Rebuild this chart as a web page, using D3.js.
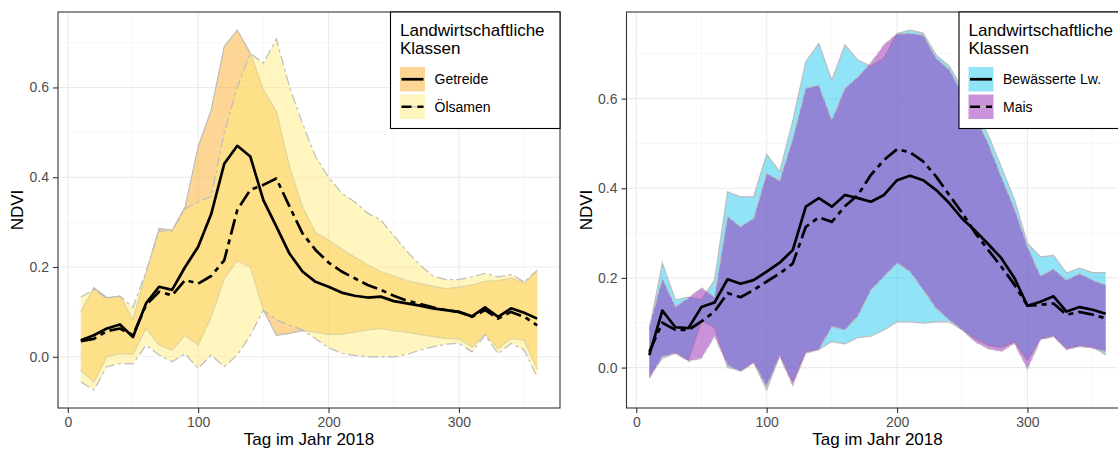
<!DOCTYPE html>
<html>
<head>
<meta charset="utf-8">
<script src="https://cdn.jsdelivr.net/npm/d3@7/dist/d3.min.js"></script>
<style>
  body { margin: 0; background: #fff; }
  svg { display: block; font-family: "Liberation Sans", Arial, sans-serif; }
</style>
</head>
<body>
<svg id="chart" width="1118" height="450"></svg>
<script>
'use strict';

// Tag im Jahr (alle 10 Tage)
const days = [10, 20, 30, 40, 50, 60, 70, 80, 90, 100, 110, 120, 130, 140, 150, 160, 170, 180,
              190, 200, 210, 220, 230, 240, 250, 260, 270, 280, 290, 300, 310, 320, 330, 340, 350, 360];

const xTicks = [0, 100, 200, 300];
const xMinor = [50, 150, 250, 350];
const yTicks = [0, 0.2, 0.4, 0.6];
const yMinor = [-0.1, 0.1, 0.3, 0.5, 0.7];

// linkes Panel
const getreideMean = [0.037, 0.048, 0.063, 0.072, 0.044, 0.119, 0.156, 0.149, 0.200, 0.245, 0.318, 0.430,
                      0.470, 0.446, 0.349, 0.290, 0.230, 0.190, 0.167, 0.156, 0.143, 0.136, 0.132, 0.134,
                      0.124, 0.119, 0.114, 0.108, 0.104, 0.100, 0.090, 0.110, 0.089, 0.108, 0.098, 0.085];
const getreideLow  = [-0.030, -0.056, 0.000, 0.007, 0.006, 0.063, 0.026, 0.015, 0.048, 0.026, 0.089, 0.174,
                      0.214, 0.200, 0.104, 0.048, 0.052, 0.058, 0.055, 0.050, 0.050, 0.055, 0.060, 0.063,
                      0.058, 0.055, 0.050, 0.045, 0.041, 0.040, 0.022, 0.051, 0.018, 0.041, 0.037, -0.027];
const getreideHigh = [0.100, 0.154, 0.132, 0.135, 0.083, 0.186, 0.286, 0.282, 0.334, 0.468, 0.550, 0.691,
                      0.728, 0.676, 0.595, 0.546, 0.424, 0.334, 0.277, 0.260, 0.240, 0.222, 0.205, 0.190,
                      0.180, 0.170, 0.163, 0.157, 0.152, 0.155, 0.160, 0.168, 0.170, 0.175, 0.165, 0.190];

const oelsamenMean = [0.035, 0.040, 0.057, 0.063, 0.048, 0.115, 0.145, 0.137, 0.171, 0.163, 0.180, 0.215,
                      0.327, 0.372, 0.383, 0.397, 0.335, 0.275, 0.238, 0.210, 0.190, 0.175, 0.160, 0.149,
                      0.136, 0.125, 0.118, 0.110, 0.104, 0.100, 0.089, 0.104, 0.085, 0.100, 0.089, 0.070];
const oelsamenLow  = [-0.056, -0.074, -0.022, -0.015, -0.016, 0.026, 0.004, -0.011, 0.007, -0.026, 0.004, -0.022,
                      0.004, 0.048, 0.104, 0.082, 0.070, 0.060, 0.040, 0.020, 0.008, 0.003, 0.000, 0.000,
                      0.000, 0.005, 0.015, 0.022, 0.028, 0.030, 0.011, 0.048, 0.007, 0.030, 0.015, -0.045];
const oelsamenHigh = [0.133, 0.150, 0.130, 0.135, 0.110, 0.190, 0.280, 0.280, 0.330, 0.345, 0.357, 0.500,
                      0.600, 0.676, 0.654, 0.708, 0.602, 0.520, 0.446, 0.400, 0.365, 0.345, 0.320, 0.305,
                      0.270, 0.235, 0.205, 0.180, 0.172, 0.172, 0.178, 0.186, 0.178, 0.183, 0.167, 0.193];

// rechtes Panel
const bewMean = [0.028, 0.127, 0.090, 0.088, 0.135, 0.145, 0.197, 0.187, 0.195, 0.214, 0.234, 0.262,
                 0.359, 0.378, 0.359, 0.385, 0.378, 0.370, 0.385, 0.418, 0.428, 0.418, 0.396, 0.367,
                 0.332, 0.305, 0.275, 0.244, 0.200, 0.138, 0.147, 0.159, 0.125, 0.135, 0.129, 0.120];
const bewLow  = [-0.020, 0.021, 0.032, 0.017, 0.105, 0.090, 0.000, -0.007, 0.013, -0.050, 0.028, -0.030,
                 0.035, 0.040, 0.058, 0.053, 0.067, 0.070, 0.084, 0.102, 0.102, 0.099, 0.102, 0.102,
                 0.084, 0.065, 0.050, 0.045, 0.058, 0.017, 0.065, 0.072, 0.043, 0.048, 0.047, 0.028];
const bewHigh = [0.084, 0.233, 0.151, 0.157, 0.151, 0.195, 0.392, 0.381, 0.381, 0.476, 0.437, 0.550,
                 0.682, 0.723, 0.641, 0.720, 0.686, 0.672, 0.690, 0.745, 0.753, 0.746, 0.697, 0.673,
                 0.622, 0.578, 0.518, 0.447, 0.375, 0.277, 0.247, 0.250, 0.211, 0.222, 0.212, 0.212];

const maisMean = [0.035, 0.100, 0.084, 0.084, 0.103, 0.125, 0.166, 0.157, 0.173, 0.192, 0.210, 0.232,
                  0.314, 0.335, 0.325, 0.360, 0.385, 0.430, 0.463, 0.487, 0.480, 0.460, 0.426, 0.385,
                  0.345, 0.300, 0.262, 0.225, 0.185, 0.138, 0.140, 0.143, 0.118, 0.124, 0.118, 0.110];
const maisLow  = [-0.024, 0.024, 0.032, 0.014, 0.021, 0.070, 0.005, -0.009, 0.010, -0.042, 0.025, -0.040,
                  0.032, 0.040, 0.091, 0.084, 0.115, 0.173, 0.203, 0.233, 0.214, 0.173, 0.132, 0.106,
                  0.084, 0.057, 0.042, 0.036, 0.054, -0.003, 0.062, 0.069, 0.040, 0.047, 0.043, 0.035];
const maisHigh = [0.091, 0.199, 0.136, 0.155, 0.178, 0.158, 0.337, 0.314, 0.333, 0.433, 0.417, 0.510,
                  0.623, 0.630, 0.552, 0.623, 0.649, 0.680, 0.720, 0.745, 0.745, 0.742, 0.690, 0.665,
                  0.612, 0.560, 0.500, 0.425, 0.355, 0.270, 0.204, 0.220, 0.195, 0.210, 0.195, 0.184];

const svg = d3.select('#chart');
const DASHDOT = '16,5,5,5';
const DASHDOT_THIN = '10,3.5,3,3.5';

var drawPanel = (x0, y0, w, h, series, legendTitle) => {
    const x1 = x0 + w, y1 = y0 + h;
    const g = svg.append('g');

    const dPad = (d3.max(days) - d3.min(days)) * 0.05;
    const x = d3.scaleLinear().domain([d3.min(days) - dPad, d3.max(days) + dPad]).range([x0, x1]);
    const allVals = d3.merge(series.map(s => s.low.concat(s.high)));
    const vMin = d3.min(allVals), vMax = d3.max(allVals);
    const vPad = (vMax - vMin) * 0.05;
    const y = d3.scaleLinear().domain([vMin - vPad, vMax + vPad]).range([y1, y0]);

    // Gitter
    const inY = v => v >= y.domain()[0] && v <= y.domain()[1];
    g.selectAll('.minorx').data(xMinor).enter().append('line')
        .attr('x1', d => x(d)).attr('x2', d => x(d)).attr('y1', y0).attr('y2', y1)
        .attr('stroke', '#f2f2f2').attr('stroke-width', 0.6);
    g.selectAll('.minory').data(yMinor.filter(inY)).enter().append('line')
        .attr('x1', x0).attr('x2', x1).attr('y1', d => y(d)).attr('y2', d => y(d))
        .attr('stroke', '#f2f2f2').attr('stroke-width', 0.6);
    g.selectAll('.majorx').data(xTicks).enter().append('line')
        .attr('x1', d => x(d)).attr('x2', d => x(d)).attr('y1', y0).attr('y2', y1)
        .attr('stroke', '#ebebeb').attr('stroke-width', 1.1);
    g.selectAll('.majory').data(yTicks).enter().append('line')
        .attr('x1', x0).attr('x2', x1).attr('y1', d => y(d)).attr('y2', d => y(d))
        .attr('stroke', '#ebebeb').attr('stroke-width', 1.1);

    // Bänder
    series.forEach(s => {
        const area = d3.area().x((d, i) => x(days[i])).y0((d, i) => y(s.low[i])).y1((d, i) => y(s.high[i]));
        g.append('path').attr('d', area(days)).attr('fill', s.fill).attr('fill-opacity', 0.5);
        [s.low, s.high].forEach(arr => {
            const ln = d3.line().x((d, i) => x(days[i])).y(d => y(d));
            g.append('path').attr('d', ln(arr)).attr('fill', 'none')
                .attr('stroke', '#bdbdbd').attr('stroke-width', 1.2)
                .attr('stroke-dasharray', s.dashed ? DASHDOT_THIN : null);
        });
    });

    // Mittelwerte
    series.forEach(s => {
        const ln = d3.line().x((d, i) => x(days[i])).y(d => y(d));
        g.append('path').attr('d', ln(s.mean)).attr('fill', 'none')
            .attr('stroke', '#000').attr('stroke-width', 2.7)
            .attr('stroke-linejoin', 'round')
            .attr('stroke-dasharray', s.dashed ? DASHDOT : null);
    });

    // Rahmen
    g.append('rect').attr('x', x0).attr('y', y0).attr('width', w).attr('height', h)
        .attr('fill', 'none').attr('stroke', '#333').attr('stroke-width', 1.1);

    // Achsen
    const ax = g.append('g').attr('transform', `translate(0,${y1})`)
        .call(d3.axisBottom(x).tickValues(xTicks).tickSize(5).tickPadding(4).tickFormat(d3.format('d')));
    const ay = g.append('g').attr('transform', `translate(${x0},0)`)
        .call(d3.axisLeft(y).tickValues(yTicks).tickSize(5).tickPadding(4).tickFormat(d3.format('.1f')));
    [ax, ay].forEach(a => {
        a.select('.domain').remove();
        a.selectAll('line').attr('stroke', '#333').attr('stroke-width', 1.1);
        a.selectAll('text').attr('fill', '#4d4d4d').style('font-size', '14px')
            .style('font-family', '"Liberation Sans", Arial, sans-serif');
    });

    g.append('text').attr('x', (x0 + x1) / 2).attr('y', 445).attr('text-anchor', 'middle')
        .style('font-size', '17px').text('Tag im Jahr 2018');
    g.append('text').attr('transform', `translate(${x0 - 35},${(y0 + y1) / 2}) rotate(-90)`)
        .attr('text-anchor', 'middle').style('font-size', '17px').text('NDVI');

    // Legende
    const lg = g.append('g').attr('transform', `translate(${x1 - 169.5},${y0})`);
    lg.append('rect').attr('width', 169.5).attr('height', 116.5)
        .attr('fill', '#fff').attr('stroke', '#000').attr('stroke-width', 1.1);
    legendTitle.forEach((t, i) => {
        lg.append('text').attr('x', 9.5).attr('y', 24 + i * 18).style('font-size', '17px').text(t);
    });
    series.forEach((s, i) => {
        const ky = 55 + i * 27.5;
        lg.append('rect').attr('x', 9.5).attr('y', ky).attr('width', 25).attr('height', 24.5)
            .attr('fill', s.fill).attr('fill-opacity', 0.5);
        if (s.dashed) {
            lg.append('line').attr('x1', 11).attr('x2', 33).attr('y1', ky + 12.25).attr('y2', ky + 12.25)
                .attr('stroke', '#bdbdbd').attr('stroke-width', 1.2);
        }
        lg.append('line').attr('x1', 11).attr('x2', 33).attr('y1', ky + 12.25).attr('y2', ky + 12.25)
            .attr('stroke', '#000').attr('stroke-width', 2.7)
            .attr('stroke-dasharray', s.dashed ? '10,6' : null);
        lg.append('text').attr('x', 44).attr('y', ky + 17).style('font-size', '14px').text(s.name);
    });
};

drawPanel(58, 12, 502, 396, [
    {name: 'Getreide', fill: 'rgb(251,171,43)', mean: getreideMean, low: getreideLow, high: getreideHigh, dashed: false},
    {name: 'Ölsamen', fill: 'rgb(255,235,125)', mean: oelsamenMean, low: oelsamenLow, high: oelsamenHigh, dashed: true}
], ['Landwirtschaftliche', 'Klassen']);

drawPanel(626.5, 12, 502, 396, [
    {name: 'Bewässerte Lw.', fill: 'rgb(35,200,240)', mean: bewMean, low: bewLow, high: bewHigh, dashed: false},
    {name: 'Mais', fill: 'rgb(150,40,180)', mean: maisMean, low: maisLow, high: maisHigh, dashed: true}
], ['Landwirtschaftliche', 'Klassen']);
</script>
</body>
</html>
